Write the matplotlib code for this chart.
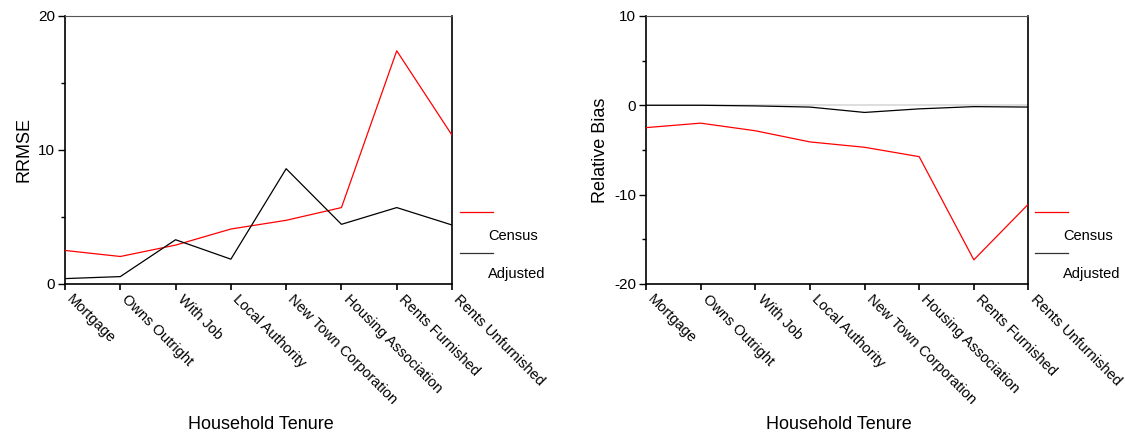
import matplotlib
matplotlib.use("Agg")
import matplotlib.pyplot as plt
from matplotlib.ticker import MultipleLocator
from matplotlib.transforms import ScaledTranslation

plt.rcParams['font.family'] = ['Liberation Sans', 'DejaVu Sans']
plt.rcParams['axes.unicode_minus'] = False

# Household tenure categories
tenure = ['Mortgage', 'Owns Outright', 'With Job', 'Local Authority',
          'New Town Corporation', 'Housing Association', 'Rents Furnished',
          'Rents Unfurnished']

# RRMSE values
rrmse_census = [2.5, 2.05, 2.9, 4.1, 4.75, 5.7, 17.4, 11.1]
rrmse_adjusted = [0.4, 0.55, 3.3, 1.85, 8.6, 4.45, 5.7, 4.4]

# Relative bias values
bias_census = [-2.5, -2.0, -2.85, -4.1, -4.7, -5.75, -17.3, -11.05]
bias_adjusted = [0.0, 0.0, -0.07, -0.2, -0.8, -0.4, -0.15, -0.2]

fig = plt.figure(figsize=(11.25, 4.43), dpi=100)
ax1 = fig.add_axes([0.0578, 0.359, 0.344, 0.605])
ax2 = fig.add_axes([0.5742, 0.359, 0.340, 0.605])


def style_axes(ax, census, adjusted, ylim, major, minor, ylabel, xlabel_x, leg_x):
    x = list(range(len(tenure)))
    if ylim[0] < 0 < ylim[1]:
        ax.axhline(0, color='#d8d8d8', lw=1.2, zorder=1)
    ax.plot(x, census, color='red', lw=0.9, zorder=3)
    ax.plot(x, adjusted, color='black', lw=0.9, zorder=3)
    ax.set_xlim(0, len(tenure) - 1)
    ax.set_ylim(*ylim)
    ax.yaxis.set_major_locator(MultipleLocator(major))
    ax.yaxis.set_minor_locator(MultipleLocator(minor))
    ax.set_xticks(x)
    ax.set_xticklabels(tenure, rotation=-45, ha='left', va='top',
                       rotation_mode='anchor', fontsize=10.5)
    ax.tick_params(axis='x', length=4, width=1.2, pad=2)
    ax.tick_params(axis='y', which='major', length=5, width=1, labelsize=11, pad=2)
    ax.tick_params(axis='y', which='minor', length=3, width=1)
    # nudge the slanted labels to the right of their ticks
    shift = ScaledTranslation(6.5 / 72, 0, fig.dpi_scale_trans)
    for lab in ax.get_xticklabels():
        lab.set_transform(lab.get_transform() + shift)
    for side in ['left', 'bottom', 'right']:
        ax.spines[side].set_linewidth(1.2)
    ax.spines['top'].set_color('#555555')
    ax.set_ylabel(ylabel, fontsize=13, labelpad=4)
    fig.text(xlabel_x, 0.022, 'Household Tenure', ha='center', va='bottom', fontsize=13)

    # legend drawn to the right of the plot
    ax.plot([leg_x, leg_x + 0.085], [0.27, 0.27], color='red', lw=0.9,
            transform=ax.transAxes, clip_on=False)
    ax.text(leg_x + 0.072, 0.18, 'Census', transform=ax.transAxes, fontsize=10.5,
            ha='left', va='center')
    ax.plot([leg_x, leg_x + 0.085], [0.117, 0.117], color='#333333', lw=0.9,
            transform=ax.transAxes, clip_on=False)
    ax.text(leg_x + 0.072, 0.038, 'Adjusted', transform=ax.transAxes, fontsize=10.5,
            ha='left', va='center')


style_axes(ax1, rrmse_census, rrmse_adjusted, (0, 20), 10, 5, 'RRMSE', 0.232, 1.021)
style_axes(ax2, bias_census, bias_adjusted, (-20, 10), 10, 5, 'Relative Bias', 0.746, 1.018)

fig.savefig('out.png', dpi=100)
